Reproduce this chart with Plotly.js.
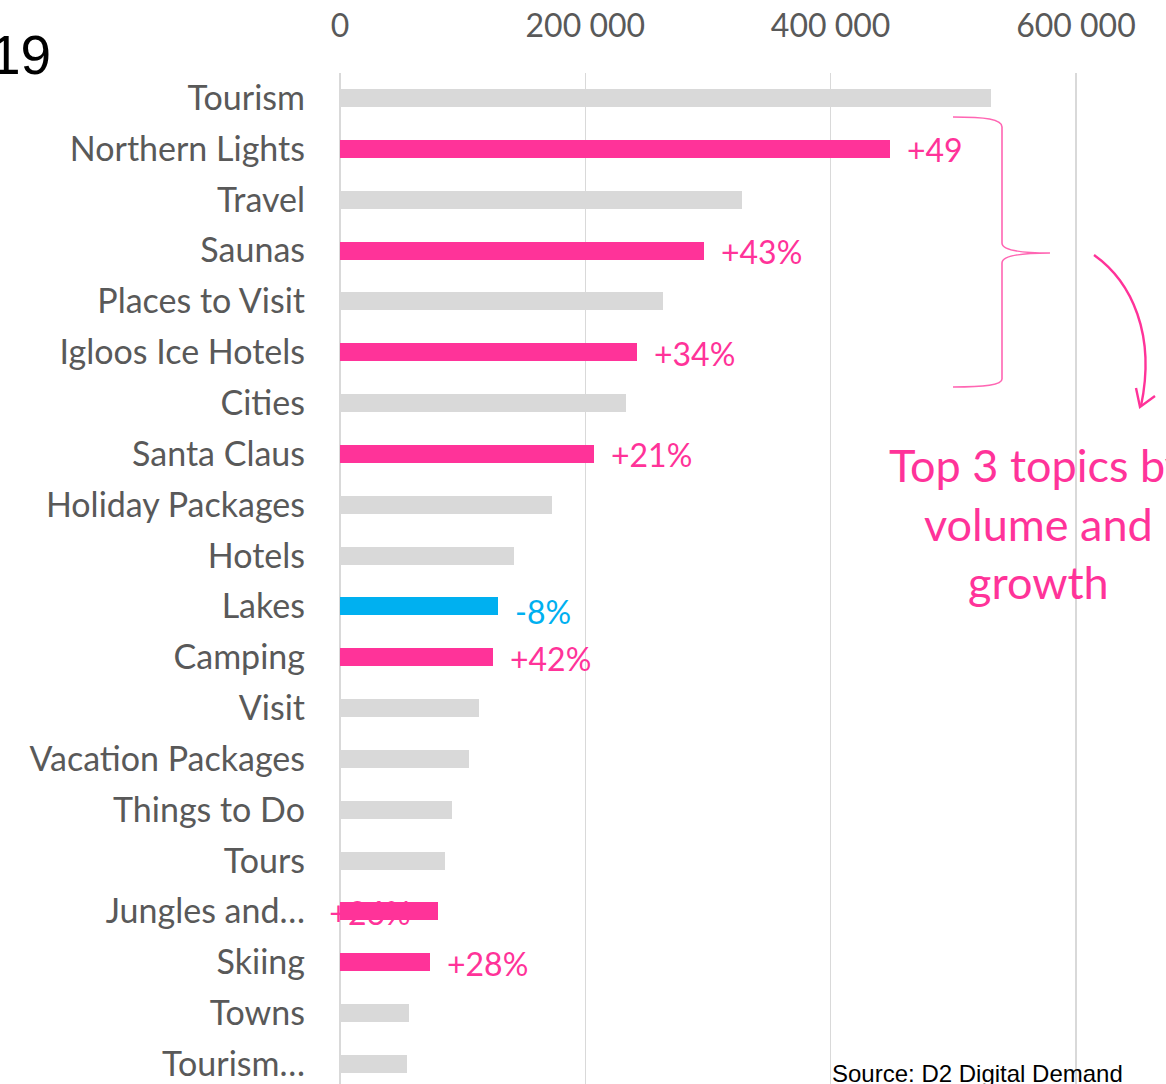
<!DOCTYPE html>
<html>
<head>
<meta charset="utf-8">
<script src="https://cdn.plot.ly/plotly-3.0.1.min.js"></script>
<style>html,body{margin:0;padding:0;background:#fff;overflow:hidden}#chart{width:1166px;height:1084px}</style>
</head>
<body>
<div id="chart"></div>
<script>
// ---- data ----
const categories = ['Tourism','Northern Lights','Travel','Saunas','Places to Visit','Igloos Ice Hotels','Cities','Santa Claus','Holiday Packages','Hotels','Lakes','Camping','Visit','Vacation Packages','Things to Do','Tours','Jungles and\u2026','Skiing','Towns','Tourism\u2026'];
const searchVolume = [531000, 448000, 328000, 297000, 263000, 242000, 233000, 207000, 173000, 142000, 129000, 125000, 113000, 105000, 91000, 86000, 80000, 73000, 56000, 55000];
const growth = ['', '+49', '', '+43%', '', '+34%', '', '+21%', '', '', '-8%', '+42%', '', '', '', '', '+26%', '+28%', '', ''];
const highlight = ['none','up','none','up','none','up','none','up','none','none','down','up','none','none','none','none','up','up','none','none'];
const xTickVals = [0, 200000, 400000, 600000];
const xTickText = ['0', '200 000', '400 000', '600 000'];

// ---- styles ----
const PINK = '#FF3399', BLUE = '#00B0F0', GRAY = '#D9D9D9', TXT = '#595959';
const colorFor = {up: PINK, down: BLUE, none: GRAY};
const FONT = 'Lato, "Open Sans", sans-serif';
const W = 1166, H = 1084, ML = 340, MT = 73;
const PW = W - ML, PH = H - MT;
const xMax = 673400;
const yRange = [19.393, -0.492];
const pxPerCat = PH / (yRange[0] - yRange[1]);

function px2paperX(px){ return (px - ML) / PW; }
function px2paperY(py){ return (H - py) / PH; }
function pathPx(cmds){
  return cmds.map(c => typeof c === 'string' ? c : (px2paperX(c[0]).toFixed(5) + ',' + px2paperY(c[1]).toFixed(5))).join(' ');
}

const catIdx = categories.map((c, i) => i);
const barColors = highlight.map(h => colorFor[h]);

// the label Excel placed at the bar base (drawn beneath the bar)
const underIdx = [], overIdx = [];
growth.forEach((g, i) => { if (!g) return; if (categories[i].endsWith('\u2026')) underIdx.push(i); else overIdx.push(i); });

const traces = [
  {
    type: 'scatter', mode: 'text', xaxis: 'x', yaxis: 'y',
    x: underIdx.map(() => xMax * 30 / PW),
    y: underIdx.map(i => i + 6 / pxPerCat),
    text: underIdx.map(i => growth[i]),
    textposition: 'middle center',
    textfont: {family: FONT, size: 32, color: PINK},
    cliponaxis: false, hoverinfo: 'skip', showlegend: false
  },
  {
    type: 'bar', orientation: 'h', xaxis: 'x2', yaxis: 'y2',
    x: searchVolume, y: catIdx,
    marker: {color: barColors, line: {width: 0}},
    width: 0.354, hoverinfo: 'skip', showlegend: false
  }
];

const annotations = overIdx.map(i => ({
  xref: 'x', yref: 'y', x: searchVolume[i], y: i,
  text: growth[i], showarrow: false, xanchor: 'left', yanchor: 'middle',
  xshift: 15, yshift: highlight[i] === 'down' ? -5 : -1,
  font: {family: FONT, size: 32, color: highlight[i] === 'down' ? BLUE : PINK}
}));

annotations.push({
  xref: 'paper', yref: 'paper', x: px2paperX(1038), y: px2paperY(523),
  xanchor: 'center', yanchor: 'middle', showarrow: false,
  text: 'Top 3 topics by<br>volume and<br>growth',
  font: {family: FONT, size: 45, color: PINK}
});
annotations.push({
  xref: 'paper', yref: 'paper', x: px2paperX(53), y: px2paperY(55),
  xanchor: 'right', yanchor: 'middle', showarrow: false,
  text: '19', font: {family: 'Liberation Sans, Arial, sans-serif', size: 55, color: '#000000'}
});
annotations.push({
  xref: 'paper', yref: 'paper', x: px2paperX(830), y: px2paperY(1073),
  xanchor: 'left', yanchor: 'middle', showarrow: false,
  text: 'Source: D2 Digital Demand', font: {family: 'Liberation Sans, Arial, sans-serif', size: 24, color: '#000000'}
});

const shapes = [
  {type: 'path', xref: 'paper', yref: 'paper', layer: 'above',
   path: pathPx(['M', [953,117], 'C', [985,117], [1002,119], [1002,127], 'L', [1002,243], 'C', [1002,250], [1020,253], [1050,253], 'C', [1020,253], [1002,256], [1002,263], 'L', [1002,379], 'C', [1002,385], [985,387], [953,387]]),
   line: {color: '#FF66B3', width: 1.6}},
  {type: 'path', xref: 'paper', yref: 'paper', layer: 'above',
   path: pathPx(['M', [1094,255], 'C', [1132,282], [1156,335], [1141,406]]),
   line: {color: PINK, width: 2.4}},
  {type: 'path', xref: 'paper', yref: 'paper', layer: 'above',
   path: pathPx(['M', [1136,388], 'L', [1140,407], 'L', [1155,396]]),
   line: {color: PINK, width: 2.4}}
];

const layout = {
  width: W, height: H,
  margin: {l: ML, r: 0, t: MT, b: 0, pad: 0},
  paper_bgcolor: '#ffffff', plot_bgcolor: 'rgba(0,0,0,0)',
  showlegend: false, hovermode: false, bargap: 0,
  xaxis: {
    side: 'top', range: [0, xMax], tickvals: xTickVals, ticktext: xTickText,
    showgrid: true, gridcolor: GRAY, gridwidth: 1.5,
    zeroline: true, zerolinecolor: GRAY, zerolinewidth: 1.5,
    showline: false, ticks: '', ticklabelstandoff: 29,
    tickfont: {family: FONT, size: 32, color: TXT}, fixedrange: true
  },
  yaxis: {
    type: 'linear', range: yRange, tickvals: catIdx, ticktext: categories,
    showgrid: false, zeroline: false, showline: false, ticks: '',
    ticklabelstandoff: 34,
    tickfont: {family: FONT, size: 34, color: TXT}, fixedrange: true
  },
  xaxis2: {overlaying: 'x', side: 'top', range: [0, xMax], visible: false, fixedrange: true},
  yaxis2: {overlaying: 'y', type: 'linear', range: yRange, visible: false, fixedrange: true},
  annotations: annotations,
  shapes: shapes
};

Plotly.newPlot('chart', traces, layout, {displayModeBar: false, staticPlot: true});
</script>
</body>
</html>
